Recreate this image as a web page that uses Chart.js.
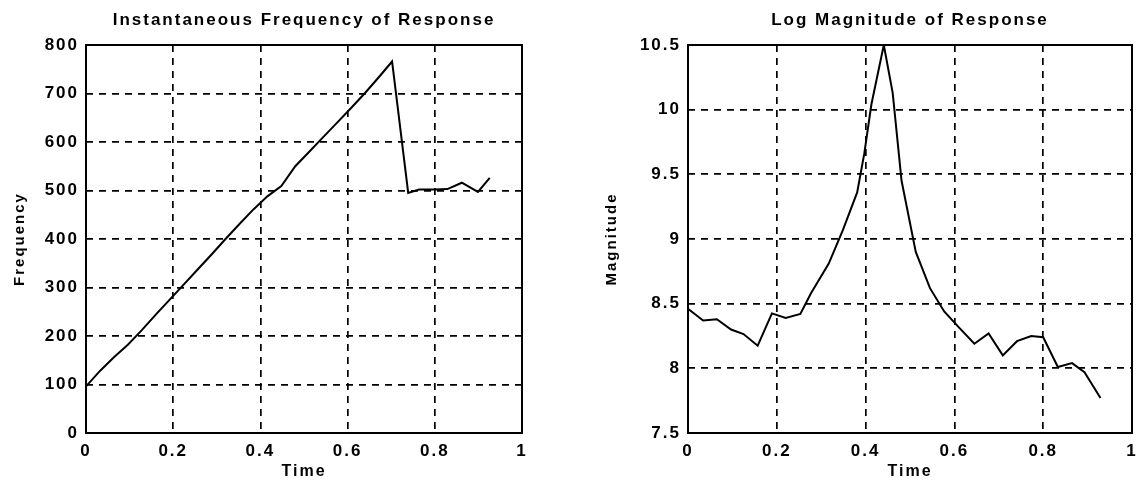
<!DOCTYPE html>
<html>
<head>
<meta charset="utf-8">
<script src="https://cdn.jsdelivr.net/npm/chart.js@4.4.1/dist/chart.umd.min.js"></script>
<style>
  html, body { margin: 0; padding: 0; background: #fff; width: 1136px; height: 485px; overflow: hidden; }
  .box { position: absolute; top: 0; height: 485px; }
  #leftBox { left: 0; width: 560px; }
  #rightBox { left: 580px; width: 570px; }
</style>
</head>
<body>
<div class="box" id="leftBox"><canvas id="freqChart"></canvas></div>
<div class="box" id="rightBox"><canvas id="magChart"></canvas></div>
<script>
// ---- data ----
const freqTime = [0, 0.032, 0.064, 0.096, 0.128, 0.16, 0.192, 0.224, 0.256, 0.288, 0.32, 0.352, 0.384, 0.416, 0.448, 0.48, 0.512, 0.544, 0.576, 0.608, 0.64, 0.672, 0.702, 0.739, 0.764, 0.8, 0.829, 0.862, 0.899, 0.926];
const freqValues = [96, 128, 156, 182, 212, 244, 275, 306, 337, 368, 400, 431, 461, 488, 509, 550, 580, 610, 640, 670, 701, 734, 766, 495, 502, 502, 503, 516, 497, 526];

const magTime = [0, 0.034, 0.065, 0.097, 0.125, 0.157, 0.189, 0.22, 0.253, 0.277, 0.317, 0.349, 0.381, 0.397, 0.413, 0.441, 0.461, 0.481, 0.513, 0.545, 0.577, 0.609, 0.645, 0.677, 0.709, 0.741, 0.773, 0.8, 0.833, 0.865, 0.893, 0.929];
const magValues = [8.46, 8.37, 8.38, 8.3, 8.265, 8.175, 8.425, 8.39, 8.42, 8.58, 8.81, 9.07, 9.36, 9.66, 10.04, 10.5, 10.13, 9.45, 8.9, 8.62, 8.44, 8.32, 8.19, 8.27, 8.1, 8.21, 8.25, 8.24, 8.01, 8.04, 7.97, 7.77];

const timeTicks = [0, 0.2, 0.4, 0.6, 0.8, 1];
const timeTickLabels = ['0', '0.2', '0.4', '0.6', '0.8', '1'];
const freqTicks = [0, 100, 200, 300, 400, 500, 600, 700, 800];
const freqTickLabels = ['0', '100', '200', '300', '400', '500', '600', '700', '800'];
const magTicks = [7.5, 8, 8.5, 9, 9.5, 10, 10.5];
const magTickLabels = ['7.5', '8', '8.5', '9', '9.5', '10', '10.5'];

const titles = ['Instantaneous Frequency of Response', 'Log Magnitude of Response'];
const xTitle = 'Time';
const yTitles = ['Frequency', 'Magnitude'];

// ---- styling ----
const FONT = "'Liberation Sans', Arial, Helvetica, sans-serif";
Chart.defaults.font.family = FONT;
Chart.defaults.color = '#000';

const spacingPlugin = {
  id: 'spacing',
  beforeUpdate(chart) { chart.ctx.letterSpacing = '2px'; },
  beforeLayout(chart) { chart.ctx.letterSpacing = '2px'; },
  beforeDraw(chart) { chart.ctx.letterSpacing = '2px'; }
};

const framePlugin = {
  id: 'frame',
  afterDraw(chart) {
    const a = chart.chartArea, ctx = chart.ctx;
    ctx.save();
    ctx.strokeStyle = '#000';
    ctx.lineWidth = 2;
    ctx.setLineDash([]);
    ctx.strokeRect(a.left, a.top, a.right - a.left, a.bottom - a.top);
    ctx.restore();
  }
};

function makeChart(id, xs, ys, yTickVals, yTickLabs, yMin, yMax, title, yTitle, yAxisWidth, padRight, yTitlePad) {
  const pts = xs.map((x, i) => ({ x: x, y: ys[i] }));
  return new Chart(document.getElementById(id), {
    type: 'line',
    data: { datasets: [{ data: pts, borderColor: '#000', borderWidth: 2, pointRadius: 0, tension: 0, fill: false }] },
    options: {
      responsive: true,
      maintainAspectRatio: false,
      animation: false,
      layout: { padding: { left: 0, right: padRight, top: 0, bottom: 0 } },
      plugins: {
        legend: { display: false },
        tooltip: { enabled: false },
        title: {
          display: true, text: title, fullSize: false, color: '#000',
          font: { size: 17, weight: 'bold', lineHeight: 1.2 },
          padding: { top: 10, bottom: 14.6 }
        }
      },
      scales: {
        x: {
          type: 'linear', min: 0, max: 1,
          afterBuildTicks: s => { s.ticks = timeTicks.map(v => ({ value: v })); },
          afterFit: s => { s.height = 52; },
          ticks: {
            callback: (v, i) => timeTickLabels[i],
            font: { size: 17, weight: 'bold' }, color: '#000', padding: 8, maxRotation: 0
          },
          grid: { color: '#000', lineWidth: 1.7, drawTicks: false },
          border: { display: false, dash: [7, 6] },
          title: { display: true, text: xTitle, color: '#000', font: { size: 16, weight: 'bold' }, padding: { top: 0, bottom: 4 } }
        },
        y: {
          type: 'linear', min: yMin, max: yMax,
          afterBuildTicks: s => { s.ticks = yTickVals.map(v => ({ value: v })); },
          afterFit: s => { s.width = yAxisWidth; },
          ticks: {
            callback: (v, i) => yTickLabs[i],
            font: { size: 17, weight: 'bold' }, color: '#000', padding: 7
          },
          grid: { color: '#000', lineWidth: 1.7, drawTicks: false },
          border: { display: false, dash: [7, 6] },
          title: { display: true, text: yTitle, color: '#000', font: { size: 15, weight: 'bold' }, padding: { top: yTitlePad, bottom: 0 } }
        }
      }
    },
    plugins: [spacingPlugin, framePlugin]
  });
}

makeChart('freqChart', freqTime, freqValues, freqTicks, freqTickLabels, 0, 800, titles[0], yTitles[0], 86, 38, 11);
makeChart('magChart', magTime, magValues, magTicks, magTickLabels, 7.5, 10.5, titles[1], yTitles[1], 108, 18, 23);
</script>
</body>
</html>
